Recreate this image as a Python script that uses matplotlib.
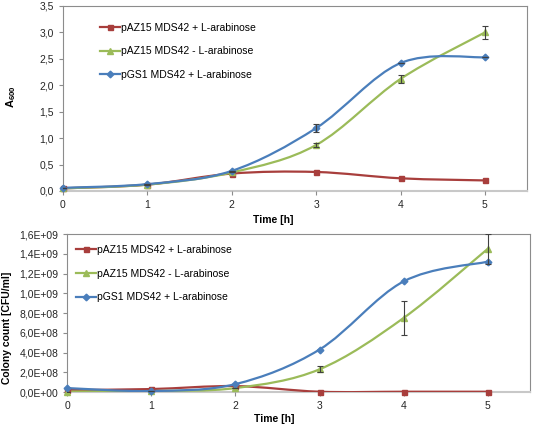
import numpy as np
import matplotlib
matplotlib.use("Agg")
import matplotlib.pyplot as plt
from matplotlib.path import Path
from matplotlib.patches import PathPatch
from matplotlib.ticker import FuncFormatter, MultipleLocator
from matplotlib.lines import Line2D

plt.rcParams['font.family'] = ['Liberation Sans', 'DejaVu Sans']
plt.rcParams['mathtext.fontset'] = 'custom'
plt.rcParams['mathtext.rm'] = 'Liberation Sans'
plt.rcParams['mathtext.bf'] = 'Liberation Sans:bold'

# data
time_h = [0, 1, 2, 3, 4, 5]
labels = ['pAZ15 MDS42 + L-arabinose', 'pAZ15 MDS42 - L-arabinose', 'pGS1 MDS42 + L-arabinose']

a600_red = [0.05, 0.12, 0.33, 0.36, 0.24, 0.20]
a600_green = [0.05, 0.12, 0.35, 0.87, 2.12, 3.00]
a600_blue = [0.06, 0.13, 0.38, 1.19, 2.42, 2.53]
a600_green_err = [0, 0, 0, 0.03, 0.07, 0.13]
a600_blue_err = [0, 0, 0, 0.08, 0, 0]

cfu_red = [0.02e9, 0.03e9, 0.06e9, 0.003e9, 0.003e9, 0.003e9]
cfu_green = [0.005e9, 0.01e9, 0.04e9, 0.23e9, 0.75e9, 1.45e9]
cfu_blue = [0.04e9, 0.01e9, 0.08e9, 0.43e9, 1.12e9, 1.32e9]
cfu_green_err = [0, 0, 0, 0.03e9, 0.17e9, 0.15e9]

colors = ['#a83e3c', '#9bbb59', '#4a7ebb']
markers = ['s', '^', 'D']
msizes = [3.6, 4.4, 3.4]


def smooth_path(x, y):
    # excel-like smoothed line: cubic bezier through the points
    p = np.column_stack([x, y]).astype(float)
    n = len(p)
    verts = [p[0]]
    codes = [Path.MOVETO]
    for i in range(n - 1):
        p0 = p[i - 1] if i > 0 else p[i]
        p3 = p[i + 2] if i + 2 < n else p[i + 1]
        c1 = p[i] + (p[i + 1] - p0) / 6.0
        c2 = p[i + 1] - (p3 - p[i]) / 6.0
        verts += [c1, c2, p[i + 1]]
        codes += [Path.CURVE4] * 3
    return Path(verts, codes)


def draw(ax, series, errs):
    for k, ys in enumerate(series):
        ax.add_patch(PathPatch(smooth_path(time_h, ys), fill=False,
                               edgecolor=colors[k], lw=1.6, zorder=3))
        ax.plot(time_h, ys, ls='none', marker=markers[k], ms=msizes[k],
                color=colors[k], zorder=4, clip_on=False)
    for k, e in errs.items():
        ax.errorbar(time_h, series[k], yerr=e, fmt='none', ecolor='#404040',
                    elinewidth=0.8, capsize=2, capthick=0.8, zorder=5)


def style(ax):
    for s in ax.spines.values():
        s.set_color('#8c8c8c')
        s.set_linewidth(0.8)
        s.set_zorder(1)
    ax.spines['bottom'].set_color('#c8c8c8')
    ax.spines['bottom'].set_linewidth(1.5)
    ax.tick_params(axis='both', direction='out', length=3, width=0.8,
                   color='#8c8c8c', labelsize=7.5, labelcolor='#262626')
    ax.set_xlim(0, 5.5)
    ax.set_xticks(time_h)


def legend(ax, x, y):
    hs = [Line2D([0], [0], color=colors[k], lw=1.6, marker=markers[k],
                 ms=msizes[k]) for k in range(3)]
    ax.legend(hs, labels, loc='upper left', bbox_to_anchor=(x, y), frameon=False,
              fontsize=7.5, handlelength=1.9, handletextpad=0.1,
              labelspacing=1.3, borderpad=0, borderaxespad=0)


fig = plt.figure(figsize=(5.33, 4.25), dpi=100)

ax1 = fig.add_axes([0.118, 0.5506, 0.871, 0.4353])
draw(ax1, [a600_red, a600_green, a600_blue], {1: a600_green_err, 2: a600_blue_err})
style(ax1)
ax1.set_ylim(0, 3.5)
ax1.yaxis.set_major_locator(MultipleLocator(0.5))
ax1.yaxis.set_major_formatter(FuncFormatter(lambda v, p: f"{v:.1f}".replace('.', ',')))
ax1.set_ylabel(r"$\mathbf{A_{600}}$", fontsize=8)
ax1.yaxis.set_label_coords(-0.097, 0.51)
ax1.set_xlabel("Time [h]", fontsize=7.5, fontweight='bold')
ax1.xaxis.set_label_coords(0.453, -0.13)
legend(ax1, 0.08, 0.91)

ax2 = fig.add_axes([0.126, 0.0776, 0.868, 0.3718])
draw(ax2, [cfu_red, cfu_green, cfu_blue], {1: cfu_green_err})
style(ax2)
ax2.set_ylim(0, 1.6e9)
ax2.yaxis.set_major_locator(MultipleLocator(0.2e9))
ax2.yaxis.set_major_formatter(FuncFormatter(lambda v, p: f"{v:.1E}".replace('.', ',')))
ax2.set_ylabel("Colony count [CFU/ml]", fontsize=7.5, fontweight='bold')
ax2.yaxis.set_label_coords(-0.119, 0.405)
ax2.set_xlabel("Time [h]", fontsize=7.5, fontweight='bold')
ax2.xaxis.set_label_coords(0.447, -0.14)
legend(ax2, 0.019, 0.93)

fig.savefig("out.png", dpi=100)
